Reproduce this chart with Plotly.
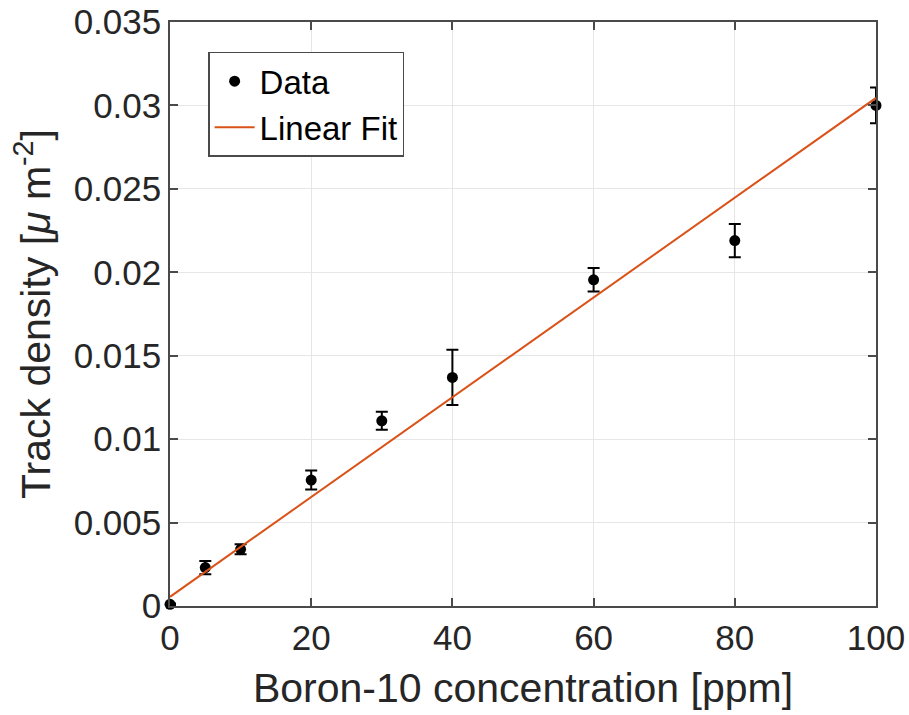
import plotly.graph_objects as go

# Measured track densities for each boron-10 concentration
conc_ppm = [0, 5, 10, 20, 30, 40, 60, 80, 100]
track_density = [0.0001, 0.0023, 0.0034, 0.00755, 0.0111, 0.0137, 0.01955, 0.0219, 0.0300]
density_err = [0.00005, 0.0004, 0.0003, 0.00057, 0.00054, 0.00165, 0.0007, 0.001, 0.00107]

# Endpoints of the linear fit line
fit_x = [0, 100]
fit_y = [0.00055, 0.03045]

# Axis ticks
x_ticks = [0, 20, 40, 60, 80, 100]
y_ticks = [0, 0.005, 0.01, 0.015, 0.02, 0.025, 0.03, 0.035]
y_tick_text = ["0", "0.005", "0.01", "0.015", "0.02", "0.025", "0.03", "0.035"]

FONT = "Liberation Sans, Arial, Helvetica, sans-serif"
TEXT = "#262626"
AXIS = "#4a4a4a"
GRID = "#e6e6e6"

fig = go.Figure()

fig.add_trace(go.Scatter(
    x=conc_ppm, y=track_density,
    mode="markers",
    name="Data",
    cliponaxis=False,
    marker=dict(color="black", size=11),
    error_y=dict(type="data", array=density_err, visible=True,
                 color="black", thickness=2, width=6),
))

fig.add_trace(go.Scatter(
    x=fit_x, y=fit_y,
    mode="lines",
    name="Linear Fit",
    line=dict(color="#D95319", width=2),
))

axis_common = dict(
    showline=True, mirror="ticks", linecolor=AXIS, linewidth=1.5,
    ticks="inside", ticklen=8, tickwidth=1.5, tickcolor=AXIS,
    showgrid=True, gridcolor=GRID, gridwidth=1,
    zeroline=False, automargin=False,
    tickfont=dict(family=FONT, size=35, color=TEXT),
)

fig.update_xaxes(
    range=[0, 100], tickvals=x_ticks,
    title=dict(text="Boron-10 concentration [ppm]",
               font=dict(family=FONT, size=41, color=TEXT), standoff=18),
    **axis_common,
)
fig.update_yaxes(
    range=[0, 0.035], tickvals=y_ticks, ticktext=y_tick_text,
    title=dict(text="Track density [<i>μ</i> m<sup>-2</sup>]",
               font=dict(family=FONT, size=41, color=TEXT), standoff=10),
    **axis_common,
)

fig.update_layout(
    width=909, height=715,
    margin=dict(l=170, r=33, t=22, b=109),
    paper_bgcolor="white", plot_bgcolor="white",
    showlegend=True,
    legend=dict(
        x=0.054, y=0.949, xanchor="left", yanchor="top",
        bgcolor="white", bordercolor=AXIS, borderwidth=1.5,
        font=dict(family=FONT, size=33, color="black"),
        itemwidth=40, tracegroupgap=0,
    ),
)

fig.write_html("out.html")
